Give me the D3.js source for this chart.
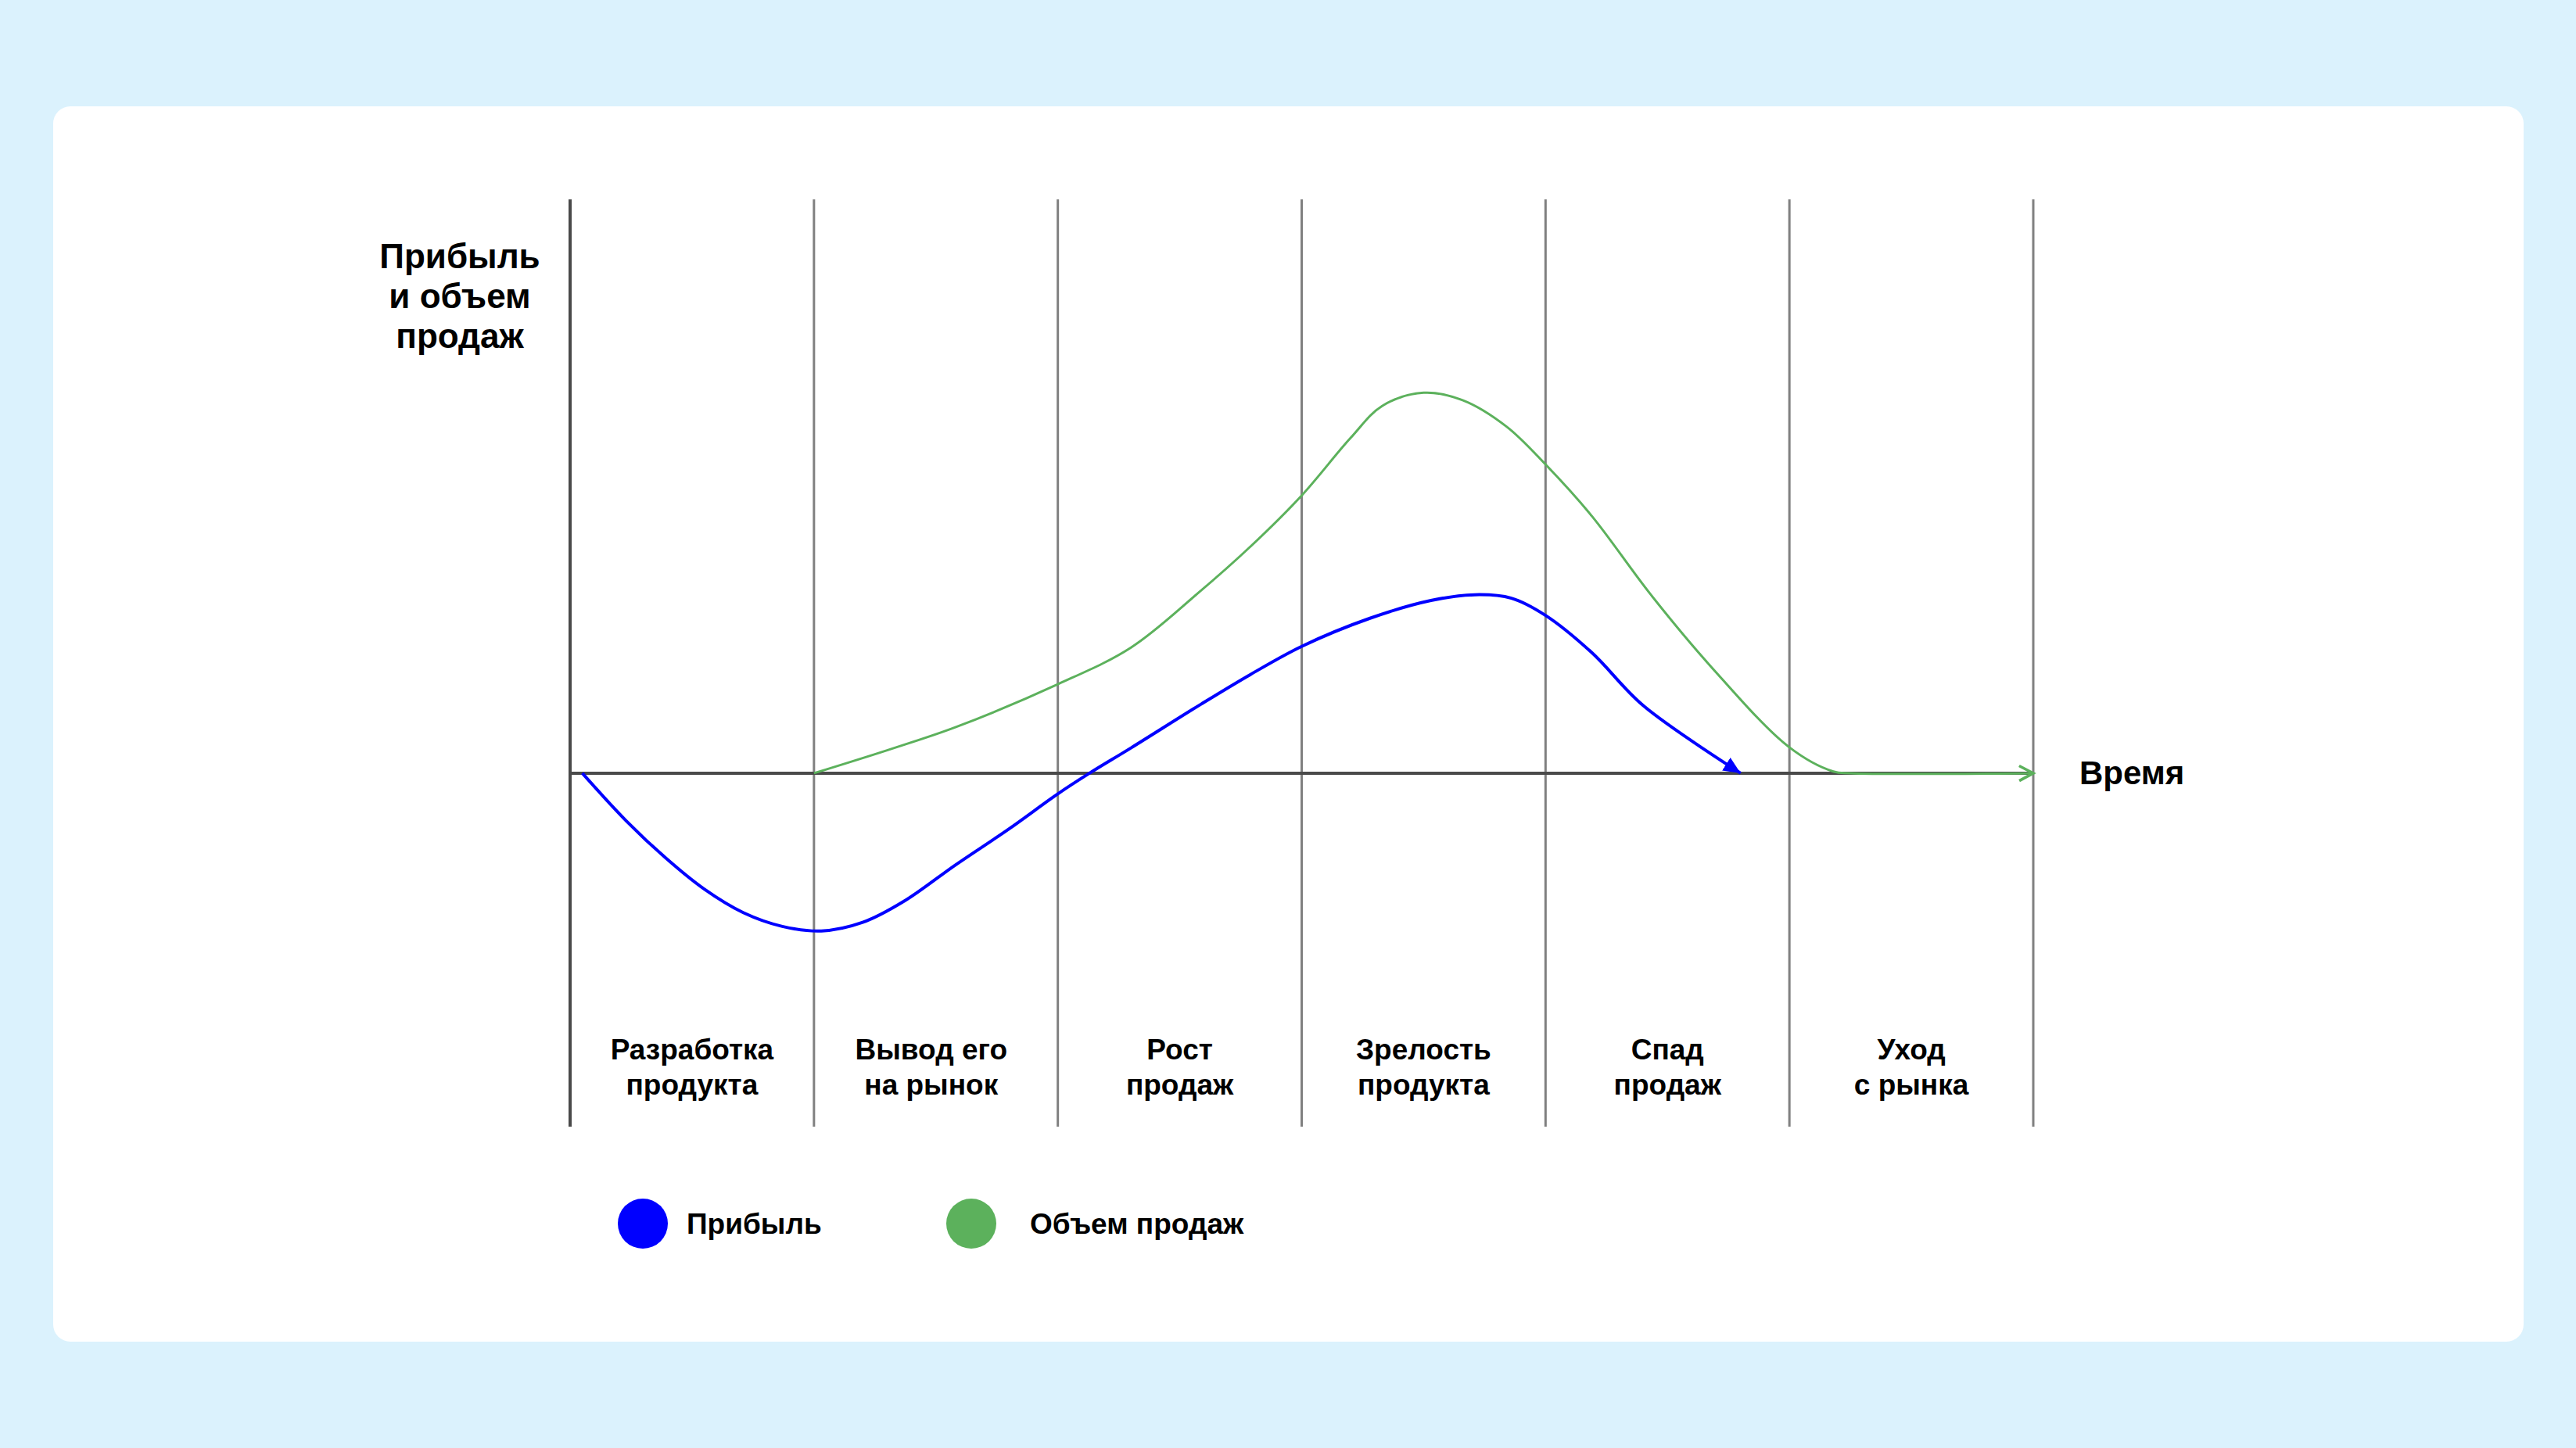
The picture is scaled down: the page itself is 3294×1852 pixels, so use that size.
<!DOCTYPE html>
<html>
<head>
<meta charset="utf-8">
<script src="https://cdn.jsdelivr.net/npm/d3@7"></script>
<style>
  html, body { margin: 0; padding: 0; background: #dbf2fd; }
  svg { display: block; }
  text { font-family: "Liberation Sans", Arial, sans-serif; font-weight: bold; fill: #000; }
</style>
</head>
<body>
<div id="chart"></div>
<script>
// Stage names (two lines each), stage boundaries on x
const stages = [
  ["Разработка", "продукта"],
  ["Вывод его", "на рынок"],
  ["Рост", "продаж"],
  ["Зрелость", "продукта"],
  ["Спад", "продаж"],
  ["Уход", "с рынка"]
];
const boundaries = [0, 1, 2, 3, 4, 5, 6];

// Profit curve (x in stages, y in relative units)
const profitX = [0.05, 0.23, 0.39, 0.55, 0.71, 0.87, 1.03, 1.2, 1.37, 1.58, 1.8, 2.0, 2.13, 2.3, 2.59, 2.79, 3.0, 3.28, 3.53, 3.71, 3.86, 4.0, 4.19, 4.4, 4.8];
const profitY = [0, -8.3, -14.7, -20.2, -24.3, -26.7, -27.5, -26.0, -22.3, -16.0, -9.7, -3.6, 0, 4.4, 12.1, 17.2, 22.1, 27.0, 30.1, 31.1, 30.5, 27.5, 21.0, 11.8, 0];

// Sales volume curve
const salesX = [1.0, 1.3, 1.58, 2.0, 2.3, 2.57, 2.79, 3.0, 3.2, 3.33, 3.5, 3.66, 3.84, 4.0, 4.19, 4.43, 4.68, 5.0, 5.18, 5.25, 6.0];
const salesY = [0, 4.0, 8.0, 15.5, 21.9, 31.2, 39.5, 48.4, 58.4, 64.0, 66.3, 65.0, 60.4, 53.8, 44.8, 31.2, 18.5, 4.5, 0.3, 0, 0];

const yTitle = ["Прибыль", "и объем", "продаж"];
const xTitle = "Время";
const legendItems = ["Прибыль", "Объем продаж"];

const W = 3294, H = 1852;
const blue = "#0000ff", green = "#5cb15c";

const svg = d3.select("#chart").append("svg")
  .attr("width", W).attr("height", H);

svg.append("rect").attr("width", W).attr("height", H).attr("fill", "#dbf2fd");
svg.append("rect")
  .attr("x", 68).attr("y", 136)
  .attr("width", 3159).attr("height", 1580)
  .attr("rx", 22).attr("fill", "#fff");

const x = d3.scaleLinear().domain([0, 6]).range([729, 2600]);
const y = d3.scaleLinear().domain([-61.6, 100]).range([1441, 255]);

const defs = svg.append("defs");
defs.append("marker")
  .attr("id", "arrowBlue")
  .attr("markerUnits", "userSpaceOnUse")
  .attr("markerWidth", 24).attr("markerHeight", 24)
  .attr("viewBox", "0 -10 22 20")
  .attr("refX", 20).attr("refY", 0)
  .attr("orient", "auto")
  .append("path").attr("d", "M0,-9L20,0L0,9Z").attr("fill", blue);

defs.append("marker")
  .attr("id", "arrowGreen")
  .attr("markerUnits", "userSpaceOnUse")
  .attr("markerWidth", 24).attr("markerHeight", 24)
  .attr("viewBox", "-2 -10 20 20")
  .attr("refX", 15).attr("refY", 0)
  .attr("orient", "auto")
  .append("path").attr("d", "M0,-8L15,0L0,8")
  .attr("fill", "none").attr("stroke", green).attr("stroke-width", 3);

// Stage dividers
svg.append("g")
  .selectAll("line")
  .data(boundaries)
  .join("line")
  .attr("x1", d => x(d)).attr("x2", d => x(d))
  .attr("y1", y(100)).attr("y2", y(-61.6))
  .attr("stroke", (d, i) => i === 0 ? "#4a4a4a" : "#808080")
  .attr("stroke-width", (d, i) => i === 0 ? 4 : 3);

// Time axis
svg.append("line")
  .attr("x1", x(0)).attr("x2", x(6))
  .attr("y1", y(0)).attr("y2", y(0))
  .attr("stroke", "#4a4a4a").attr("stroke-width", 4);

const line = d3.line()
  .x(d => x(d[0])).y(d => y(d[1]))
  .curve(d3.curveCatmullRom.alpha(0.5));

svg.append("path")
  .datum(salesX.map((v, i) => [v, salesY[i]]))
  .attr("d", line)
  .attr("fill", "none").attr("stroke", green).attr("stroke-width", 3)
  .attr("marker-end", "url(#arrowGreen)");

svg.append("path")
  .datum(profitX.map((v, i) => [v, profitY[i]]))
  .attr("d", line)
  .attr("fill", "none").attr("stroke", blue).attr("stroke-width", 4)
  .attr("marker-end", "url(#arrowBlue)");

// Stage labels
const stageG = svg.append("g").attr("text-anchor", "middle").attr("font-size", 37);
stageG.selectAll("text")
  .data(stages)
  .join("text")
  .attr("x", (d, i) => x(i + 0.5) - (i === 1 ? 6 : 0))
  .attr("y", 1355)
  .selectAll("tspan")
  .data(d => d)
  .join("tspan")
  .attr("x", function () { return this.parentNode.getAttribute("x"); })
  .attr("dy", (d, i) => i === 0 ? 0 : 45)
  .text(d => d);

// Y title
svg.append("text")
  .attr("text-anchor", "middle").attr("font-size", 44)
  .attr("x", 588).attr("y", 343)
  .selectAll("tspan")
  .data(yTitle)
  .join("tspan")
  .attr("x", 588)
  .attr("dy", (d, i) => i === 0 ? 0 : 51)
  .text(d => d);

// X title
svg.append("text")
  .attr("x", 2659).attr("y", 1003)
  .attr("font-size", 42)
  .text(xTitle);

// Legend
const legendX = [822, 1242];
const legendColors = [blue, green];
const lg = svg.append("g").selectAll("g")
  .data(legendItems)
  .join("g")
  .attr("transform", (d, i) => `translate(${legendX[i]},1565)`);
lg.append("circle").attr("r", 32).attr("fill", (d, i) => legendColors[i]);
lg.append("text")
  .attr("x", (d, i) => i === 0 ? 56 : 75)
  .attr("y", 13)
  .attr("font-size", 37)
  .text(d => d);
</script>
</body>
</html>
